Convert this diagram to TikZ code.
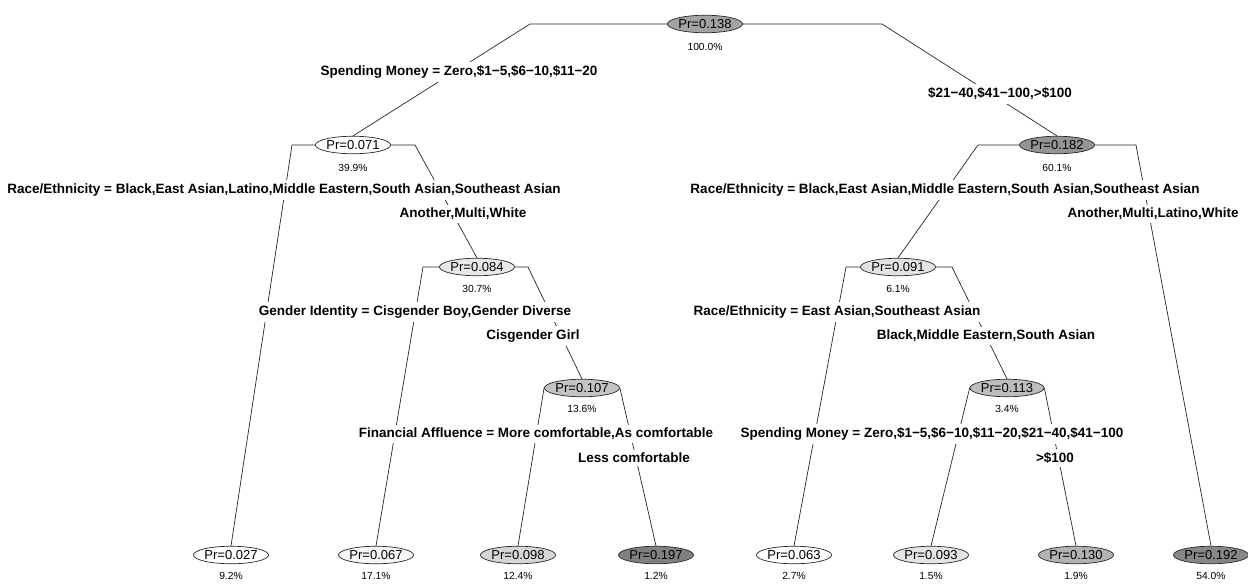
\documentclass[tikz,border=0pt]{standalone}
\usepackage{fontspec}
\setmainfont{Liberation Sans}
\usetikzlibrary{shapes.geometric}
\tikzset{
  pnode/.style={ellipse,draw=black!85,line width=0.7pt,inner xsep=0pt,inner ysep=0pt,minimum width=74pt,minimum height=17.5pt,font=\fontsize{13}{13}\selectfont},
  pct/.style={font=\fontsize{10.3}{10.3}\selectfont,inner sep=0pt},
  splitlab/.style={font=\fontsize{13.5}{13.5}\selectfont\bfseries,fill=white,inner xsep=1pt,inner ysep=3.5pt},
  br/.style={draw=black!85,line width=0.7pt}
}
\begin{document}
\begin{tikzpicture}[x=1pt,y=-1pt]
\useasboundingbox (0,0) rectangle (1248,584);
% nodes
\node[pnode,fill=black!36] (n138) at (705,24) {Pr=0.138};
\node[pnode,fill=white] (n071) at (353,145) {Pr=0.071};
\node[pnode,fill=black!42] (n182) at (1057,145) {Pr=0.182};
\node[pnode,fill=black!9] (n084) at (477,267) {Pr=0.084};
\node[pnode,fill=black!11] (n091) at (898,267) {Pr=0.091};
\node[pnode,fill=black!23] (n107) at (582,388) {Pr=0.107};
\node[pnode,fill=black!26] (n113) at (1007,388) {Pr=0.113};
\node[pnode,fill=white] (n027) at (231,555) {Pr=0.027};
\node[pnode,fill=black!3] (n067) at (376,555) {Pr=0.067};
\node[pnode,fill=black!16] (n098) at (518,555) {Pr=0.098};
\node[pnode,fill=black!50] (n197) at (656,555) {Pr=0.197};
\node[pnode,fill=white] (n063) at (794,555) {Pr=0.063};
\node[pnode,fill=black!10] (n093) at (931,555) {Pr=0.093};
\node[pnode,fill=black!30] (n130) at (1076,555) {Pr=0.130};
\node[pnode,fill=black!47] (n192) at (1211,555) {Pr=0.192};
% percentages
\node[pct] (p138) at (705,47) {100.0\%};
\node[pct] (p071) at (353,168) {39.9\%};
\node[pct] (p182) at (1057,168) {60.1\%};
\node[pct] (p084) at (477,289) {30.7\%};
\node[pct] (p091) at (898,289) {6.1\%};
\node[pct] (p107) at (582,409) {13.6\%};
\node[pct] (p113) at (1007,409) {3.4\%};
\node[pct] (p027) at (231,576) {9.2\%};
\node[pct] (p067) at (376,576) {17.1\%};
\node[pct] (p098) at (518,576) {12.4\%};
\node[pct] (p197) at (656,576) {1.2\%};
\node[pct] (p063) at (794,576) {2.7\%};
\node[pct] (p093) at (931,576) {1.5\%};
\node[pct] (p130) at (1076,576) {1.9\%};
\node[pct] (p192) at (1211,576) {54.0\%};
% branch corners
\coordinate (c138l) at (530,24);
\coordinate (c138r) at (882,24);
\coordinate (c071l) at (292,145);
\coordinate (c071r) at (415,145);
\coordinate (c182l) at (978,145);
\coordinate (c182r) at (1136,145);
\coordinate (c084l) at (423,267);
\coordinate (c084r) at (528,267);
\coordinate (c091l) at (846,267);
\coordinate (c091r) at (952,267);
% branches
\draw[br] (n138.west) -- (c138l) -- (n071.north);
\draw[br] (n138.east) -- (c138r) -- (n182.north);
\draw[br] (n071.west) -- (c071l) -- (n027.north);
\draw[br] (n071.east) -- (c071r) -- (n084.north);
\draw[br] (n182.west) -- (c182l) -- (n091.north);
\draw[br] (n182.east) -- (c182r) -- (n192.north);
\draw[br] (n084.west) -- (c084l) -- (n067.north);
\draw[br] (n084.east) -- (c084r) -- (n107.north);
\draw[br] (n091.west) -- (c091l) -- (n063.north);
\draw[br] (n091.east) -- (c091r) -- (n113.north);
\draw[br] (n107.west) -- (n098.north);
\draw[br] (n107.east) -- (n197.north);
\draw[br] (n113.west) -- (n093.north);
\draw[br] (n113.east) -- (n130.north);
% split labels
\node[splitlab] (s1l) at (459,72) {Spending Money = Zero,\$1−5,\$6−10,\$11−20};
\node[splitlab] (s1r) at (1000,94) {\$21−40,\$41−100,>\$100};
\node[splitlab] (s2l) at (284,190) {Race/Ethnicity = Black,East Asian,Latino,Middle Eastern,South Asian,Southeast Asian};
\node[splitlab] (s2r) at (463,214) {Another,Multi,White};
\node[splitlab] (s3l) at (945,190) {Race/Ethnicity = Black,East Asian,Middle Eastern,South Asian,Southeast Asian};
\node[splitlab] (s3r) at (1153,214) {Another,Multi,Latino,White};
\node[splitlab] (s4l) at (415,312) {Gender Identity = Cisgender Boy,Gender Diverse};
\node[splitlab] (s4r) at (533,336) {Cisgender Girl};
\node[splitlab] (s5l) at (837,312) {Race/Ethnicity = East Asian,Southeast Asian};
\node[splitlab] (s5r) at (986,336) {Black,Middle Eastern,South Asian};
\node[splitlab] (s6l) at (536,434) {Financial Affluence = More comfortable,As comfortable};
\node[splitlab] (s6r) at (634,458) {Less comfortable};
\node[splitlab] (s7l) at (932,434) {Spending Money = Zero,\$1−5,\$6−10,\$11−20,\$21−40,\$41−100};
\node[splitlab] (s7r) at (1055,458) {>\$100};
\end{tikzpicture}
\end{document}
